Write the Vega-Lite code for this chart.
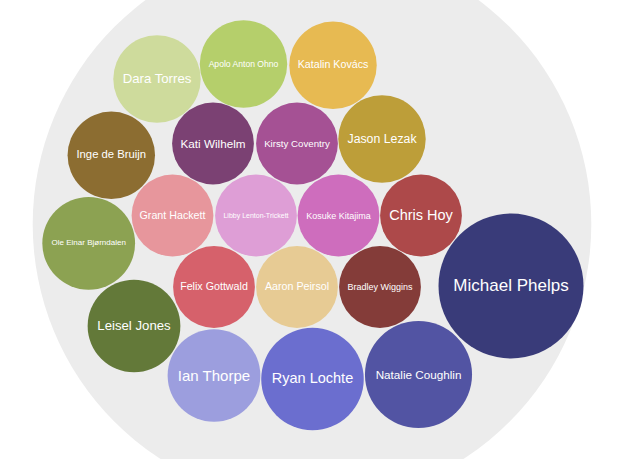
{
  "$schema": "https://vega.github.io/schema/vega-lite/v6.json",
  "width": 635,
  "height": 459,
  "padding": 0,
  "autosize": "none",
  "background": "white",
  "config": {"view": {"stroke": null}},
  "datasets": {
    "outerCircle": [{"name": "All athletes", "px": 312, "py": 224.3}],
    "athletes": [
      {"name": "Michael Phelps", "medals": 22, "px": 511, "py": 286},
      {"name": "Natalie Coughlin", "medals": 12, "px": 418.5, "py": 374.5},
      {"name": "Ryan Lochte", "medals": 11, "px": 312.5, "py": 379},
      {"name": "Ian Thorpe", "medals": 9, "px": 214, "py": 375.5},
      {"name": "Leisel Jones", "medals": 9, "px": 134, "py": 326},
      {"name": "Ole Einar Bjørndalen", "medals": 9, "px": 88.7, "py": 243.3},
      {"name": "Apolo Anton Ohno", "medals": 8, "px": 243.5, "py": 64},
      {"name": "Dara Torres", "medals": 8, "px": 157, "py": 79},
      {"name": "Inge de Bruijn", "medals": 8, "px": 111.3, "py": 155.3},
      {"name": "Jason Lezak", "medals": 8, "px": 382, "py": 139},
      {"name": "Katalin Kovács", "medals": 8, "px": 333, "py": 65.3},
      {"name": "Aaron Peirsol", "medals": 7, "px": 297, "py": 287},
      {"name": "Bradley Wiggins", "medals": 7, "px": 380, "py": 287},
      {"name": "Chris Hoy", "medals": 7, "px": 421, "py": 215.5},
      {"name": "Felix Gottwald", "medals": 7, "px": 214, "py": 287},
      {"name": "Grant Hackett", "medals": 7, "px": 172.5, "py": 215.5},
      {"name": "Kati Wilhelm", "medals": 7, "px": 213, "py": 143.5},
      {"name": "Kirsty Coventry", "medals": 7, "px": 297, "py": 143.5},
      {"name": "Kosuke Kitajima", "medals": 7, "px": 338.5, "py": 215.5},
      {"name": "Libby Lenton-Trickett", "medals": 7, "px": 256, "py": 215.5}
    ]
  },
  "layer": [
    {
      "data": {"name": "outerCircle"},
      "mark": {"type": "circle", "size": 312034, "color": "#ececec", "opacity": 1, "clip": true},
      "encoding": {
        "x": {"field": "px", "type": "quantitative", "scale": {"domain": [0, 635], "nice": false, "zero": false}, "axis": null},
        "y": {"field": "py", "type": "quantitative", "scale": {"domain": [0, 459], "nice": false, "zero": false, "reverse": true}, "axis": null}
      }
    },
    {
      "data": {"name": "athletes"},
      "mark": {"type": "circle", "opacity": 1, "clip": true},
      "encoding": {
        "x": {"field": "px", "type": "quantitative", "axis": null},
        "y": {"field": "py", "type": "quantitative", "axis": null},
        "size": {"field": "medals", "type": "quantitative", "scale": {"domain": [0, 22], "range": [0, 21025], "zero": true}, "legend": null},
        "color": {
          "field": "name", "type": "nominal", "legend": null,
          "scale": {
            "domain": ["Michael Phelps", "Natalie Coughlin", "Ryan Lochte", "Ian Thorpe", "Leisel Jones", "Ole Einar Bjørndalen", "Apolo Anton Ohno", "Dara Torres", "Inge de Bruijn", "Jason Lezak", "Katalin Kovács", "Aaron Peirsol", "Bradley Wiggins", "Chris Hoy", "Felix Gottwald", "Grant Hackett", "Kati Wilhelm", "Kirsty Coventry", "Kosuke Kitajima", "Libby Lenton-Trickett"],
            "range": ["#393b79", "#5254a3", "#6b6ecf", "#9c9ede", "#637939", "#8ca252", "#b5cf6b", "#cedb9c", "#8c6d31", "#bd9e39", "#e7ba52", "#e7cb94", "#843c39", "#ad494a", "#d6616b", "#e7969c", "#7b4173", "#a55194", "#ce6dbd", "#de9ed6"]
          }
        }
      }
    },
    {
      "data": {"name": "athletes"},
      "mark": {"type": "text", "color": "white", "font": "Liberation Sans", "align": "center", "baseline": "middle", "clip": true},
      "encoding": {
        "x": {"field": "px", "type": "quantitative", "axis": null},
        "y": {"field": "py", "type": "quantitative", "axis": null},
        "text": {"field": "name", "type": "nominal"},
        "size": {
          "condition": [
            {"test": {"field": "name", "oneOf": ["Michael Phelps"]}, "value": 17},
            {"test": {"field": "name", "oneOf": ["Ian Thorpe"]}, "value": 15},
            {"test": {"field": "name", "oneOf": ["Chris Hoy", "Ryan Lochte"]}, "value": 14.5},
            {"test": {"field": "name", "oneOf": ["Leisel Jones", "Dara Torres"]}, "value": 13.2},
            {"test": {"field": "name", "oneOf": ["Jason Lezak"]}, "value": 12.3},
            {"test": {"field": "name", "oneOf": ["Kati Wilhelm", "Natalie Coughlin"]}, "value": 11.7},
            {"test": {"field": "name", "oneOf": ["Inge de Bruijn"]}, "value": 11.3},
            {"test": {"field": "name", "oneOf": ["Aaron Peirsol", "Katalin Kovács", "Grant Hackett", "Felix Gottwald"]}, "value": 10.7},
            {"test": {"field": "name", "oneOf": ["Kirsty Coventry"]}, "value": 9.7},
            {"test": {"field": "name", "oneOf": ["Bradley Wiggins", "Kosuke Kitajima"]}, "value": 9},
            {"test": {"field": "name", "oneOf": ["Apolo Anton Ohno"]}, "value": 8.6},
            {"test": {"field": "name", "oneOf": ["Ole Einar Bjørndalen"]}, "value": 8},
            {"test": {"field": "name", "oneOf": ["Libby Lenton-Trickett"]}, "value": 7}
          ],
          "value": 10
        }
      }
    }
  ]
}
